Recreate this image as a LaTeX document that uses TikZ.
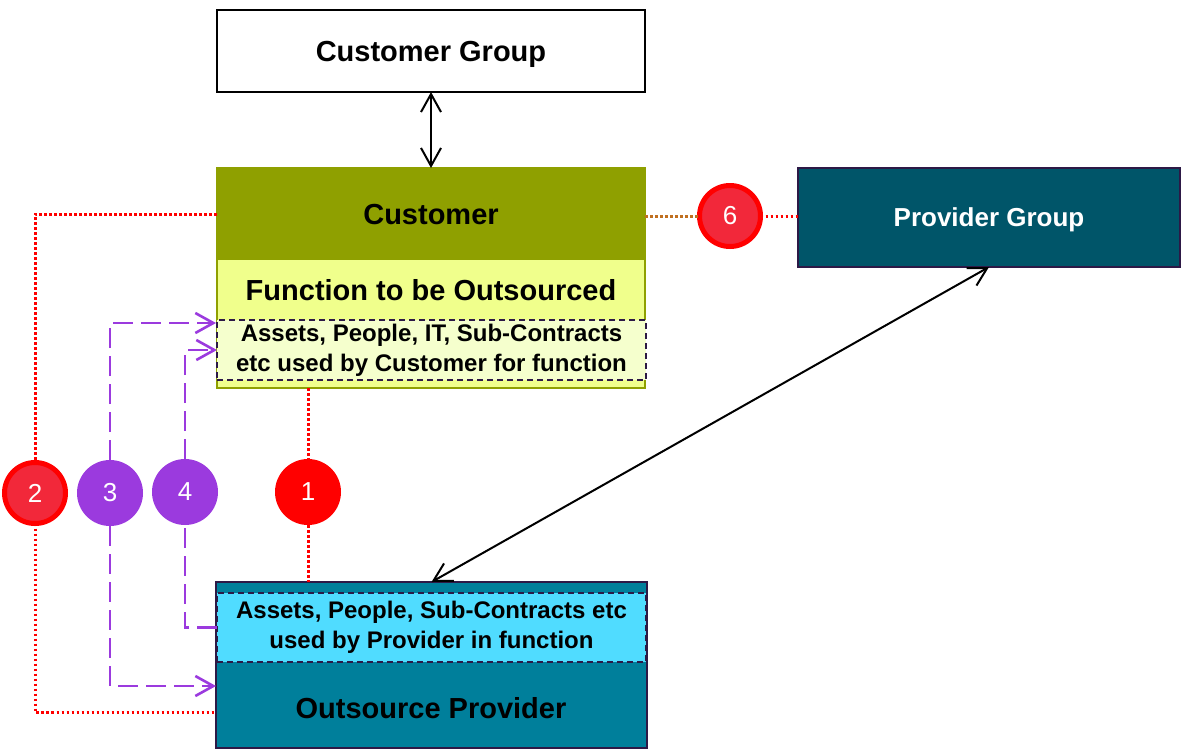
\documentclass[tikz,border=0pt]{standalone}
\usepackage{fontspec}
\setmainfont{Liberation Sans}
\usetikzlibrary{arrows.meta, positioning}
\definecolor{custolive}{RGB}{143,160,0}
\definecolor{custyellow}{RGB}{240,255,140}
\definecolor{custpale}{RGB}{245,255,205}
\definecolor{provdark}{RGB}{0,85,105}
\definecolor{provteal}{RGB}{0,127,155}
\definecolor{provcyan}{RGB}{80,220,255}
\definecolor{edge}{RGB}{45,25,70}
\definecolor{linkpurple}{RGB}{155,58,222}
\definecolor{badgered}{RGB}{242,40,58}
\definecolor{linkbrown}{RGB}{192,112,32}
\tikzstyle{box}=[rectangle,inner sep=0pt,outer sep=0pt,text depth=0pt,font=\bfseries\fontsize{14.5}{17}\selectfont]
\tikzstyle{part}=[rectangle,inner sep=0pt,outer sep=0pt,draw=edge,line width=0.8pt,dash pattern=on 3pt off 2pt,align=center,font=\bfseries\fontsize{12}{15}\selectfont]
\tikzstyle{badge}=[circle,inner sep=0pt,outer sep=0pt,minimum size=33pt,text=white,font=\fontsize{13}{15}\selectfont]
\tikzstyle{ringbadge}=[badge,minimum size=30.5pt,fill=badgered,draw=red,line width=2.5pt]
\tikzstyle{reddot}=[red,line width=1.5pt,dash pattern=on 1.3pt off 1.2pt]
\tikzstyle{browndot}=[linkbrown,line width=1.5pt,dash pattern=on 1.3pt off 1.2pt]
\tikzstyle{purpledash}=[linkpurple,line width=1.3pt,dash pattern=on 10pt off 4pt]
\tikzstyle{dbl}=[line width=1pt,{Straight Barb[length=9pt,width=10pt]}-{Straight Barb[length=9pt,width=10pt]}]

\begin{document}
\begin{tikzpicture}[x=0.5pt,y=-0.5pt,>={Straight Barb[length=9pt,width=10pt]}]
	\useasboundingbox (0,0) rectangle (1192,750);

	% customer side
	\node [box, draw=black, line width=0.6pt, fill=white, minimum width=214pt, minimum height=41pt] (custgroup) at (431,51) {Customer Group};
	\node [box, draw=custolive, line width=0.8pt, fill=custyellow, minimum width=214pt, minimum height=110pt] (custbox) at (431,278) {};
	\node [box, fill=custolive, minimum width=214pt, minimum height=46pt] (customer) at (431,214) {Customer};
	\node [box] (function) at (431,290) {Function to be Outsourced};
	\node [part, fill=custpale, minimum width=214.5pt, minimum height=30pt] (custassets) at (431.5,350) {Assets, People, IT, Sub-Contracts\\etc used by Customer for function};

	% provider side
	\node [box, draw=edge, line width=0.8pt, fill=provdark, text=white, font=\bfseries\fontsize{13}{15}\selectfont, minimum width=191pt, minimum height=49.5pt] (provgroup) at (989,217.5) {Provider Group};
	\node [box, draw=edge, line width=0.8pt, fill=provteal, minimum width=215.5pt, minimum height=83pt] (outsource) at (431.5,665) {};
	\node [part, fill=provcyan, minimum width=214.5pt, minimum height=34.5pt] (provassets) at (431.5,627.5) {Assets, People, Sub-Contracts etc\\used by Provider in function};
	\node [box] (outtitle) at (431,708) {Outsource Provider};

	% numbered links
	\node [badge, fill=red] (num1) at (308,492) {1};
	\node [ringbadge] (num2) at (35,493) {2};
	\node [badge, fill=linkpurple] (num3) at (110,493) {3};
	\node [badge, fill=linkpurple] (num4) at (185,492) {4};
	\node [ringbadge] (num6) at (730,216) {6};

	\coordinate (in2) at (216,712);
	\coordinate (in3a) at (216,323);
	\coordinate (in3b) at (216,686);

	\draw[reddot] (custbox.south -| num1) -- (num1);
	\draw[reddot] (num1) -- (outsource.north -| num1);
	\draw[reddot] (customer.west) -| (num2);
	\draw[reddot] (num2) |- (in2);
	\draw[purpledash, ->] (num3) |- (in3a);
	\draw[purpledash, ->] (num3) |- (in3b);
	\draw[purpledash, ->] (num4) |- (custassets.west);
	\draw[purpledash] (provassets.west) -| (num4);
	\draw[browndot] (customer.east |- num6) -- (num6);
	\draw[reddot] (num6) -- (provgroup.west |- num6);

	\draw[dbl] (custgroup) -- (customer);
	\draw[dbl] (provgroup.south) -- (outsource.north);
\end{tikzpicture}
\end{document}
